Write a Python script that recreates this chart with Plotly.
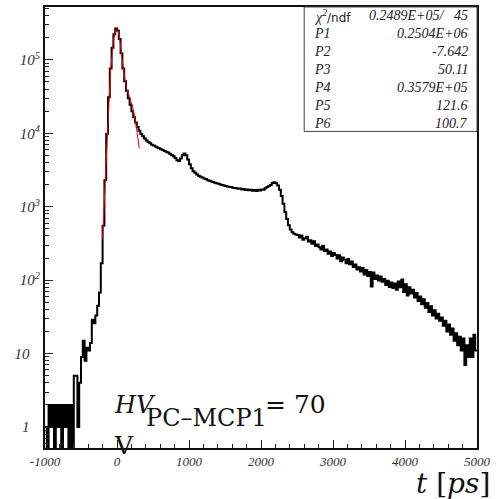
import numpy as np
import plotly.graph_objects as go

# ---- histogram: time spectrum, 25 ps bins from -1000 to 5000 ps ----
T_MIN, T_MAX, BIN_WIDTH = -1000, 5000, 25

counts = [
    # -1000 .. -625
    1, 0, 2, 1, 2, 0, 2, 1, 2, 0, 2, 1, 2, 0, 2, 0,
    # -600 .. -225
    5, 5, 1, 4, 9, 15, 8, 12, 11, 14, 29, 26, 33, 45, 68, 170,
    # -200 .. 175
    550, 2300, 9800, 31000, 76000, 146000, 222000, 266000,
    250000, 192000, 123000, 76000, 51000, 38000, 30000, 24500,
    # 200 .. 575
    20000, 16500, 14000, 12200, 10800, 9800, 9100, 8500,
    8000, 7600, 7300, 7000, 6800, 6600, 6400, 6250,
    # 600 .. 975
    6050, 5900, 5750, 5600, 5450, 5250, 5050, 4850,
    4600, 4300, 4200, 4550, 5000, 5300, 5000, 4400,
    # 1000 .. 1375
    3800, 3350, 3050, 2900, 2750, 2650, 2550, 2500,
    2420, 2380, 2300, 2260, 2200, 2170, 2120, 2080,
    # 1400 .. 1775
    2050, 2000, 1980, 1940, 1920, 1880, 1860, 1850,
    1810, 1800, 1790, 1760, 1770, 1720, 1740, 1690,
    # 1800 .. 2175
    1710, 1670, 1700, 1650, 1690, 1640, 1700, 1660,
    1720, 1700, 1780, 1850, 1920, 1980, 2100, 2150,
    # 2200 .. 2475
    2080, 1950, 1700, 1400, 1100, 850, 680, 560, 490, 450, 430, 420,
    # 2500 .. 2875
    412, 380, 405, 356, 372, 390, 335, 350, 312, 338, 291, 306, 280, 262, 293, 249,
    # 2900 .. 3275
    262, 229, 246, 213, 235, 220, 197, 218, 181, 204, 190, 170, 194, 165, 179, 151,
    # 3300 .. 3675
    163, 140, 150, 131, 146, 119, 137, 114, 129, 82, 127, 104, 116, 99, 112, 95,
    # 3700 .. 4075
    104, 86, 98, 81, 93, 78, 90, 74, 96, 80, 102, 69, 88, 62, 80, 66,
    # 4100 .. 4475
    74, 58, 67, 52, 60, 47, 55, 42, 49, 37, 44, 33, 39, 30, 35, 28,
    # 4500 .. 4875
    31, 24, 28, 20, 25, 18, 22, 15, 19, 13, 17, 11, 16, 7, 13, 9,
    # 4900 .. 4975
    16, 9, 18, 11,
]

# ---- fit result (two Gaussians) ----
fit_params = [0.2504e6, -7.642, 50.11, 0.3579e5, 121.6, 100.7]
fit_range = (-200.0, 310.0)
chi2, ndf = 0.2489e5, 45
stat_labels = ["P1", "P2", "P3", "P4", "P5", "P6"]

x_ticks = [-1000, 0, 1000, 2000, 3000, 4000, 5000]
y_ticks = [1, 10, 100, 1000, 10000, 100000]
y_ticktext = ["1\u2002\u2009", "10\u2002\u2009", "10<sup>2</sup>", "10<sup>3</sup>",
              "10<sup>4</sup>", "10<sup>5</sup>"]


def root_fmt(v):
    """ROOT-style stat number: 4 significant digits, 0.xxxxE+yy when large."""
    if abs(v) >= 1e4:
        e = int(np.floor(np.log10(abs(v)))) + 1
        return f"{v / 10 ** e:.4f}E+{e:02d}"
    return f"{v:.4g}"


# ---- derived arrays ----
edges = np.arange(T_MIN, T_MAX + BIN_WIDTH, BIN_WIDTH)
c = np.asarray(counts, dtype=float)
# empty bins are pushed below the axis so the step drops to the frame
c_plot = np.where(c > 0, c, 1e-3)
y_step = np.append(c_plot, c_plot[-1])


def double_gauss(t, p):
    return (p[0] * np.exp(-0.5 * ((t - p[1]) / p[2]) ** 2)
            + p[3] * np.exp(-0.5 * ((t - p[4]) / p[5]) ** 2))


t_fit = np.linspace(fit_range[0], fit_range[1], 300)
y_fit = double_gauss(t_fit, fit_params)

# ---- frame geometry in pixels ----
W, H = 496, 499
L, R, T, B = 45, 480, 5, 448


def px(x):
    return (x - L) / (R - L)


def py(y):
    return (B - y) / (B - T)


fig = go.Figure()
fig.add_trace(go.Scatter(
    x=edges, y=y_step, mode="lines", line_shape="hv",
    line=dict(color="black", width=2), hoverinfo="skip", showlegend=False))
fig.add_trace(go.Scatter(
    x=t_fit, y=y_fit, mode="lines",
    line=dict(color="#ff0000", width=1), hoverinfo="skip", showlegend=False))

minor_y = [m * 10 ** k for k in range(-1, 6) for m in range(2, 10)
           if -0.285 < np.log10(m * 10 ** k) < 5.719]

fig.update_layout(
    width=W, height=H,
    margin=dict(l=L, r=W - R, t=T, b=H - B),
    paper_bgcolor="white", plot_bgcolor="white",
    xaxis=dict(
        range=[T_MIN, T_MAX], tickvals=x_ticks,
        ticktext=[str(v) for v in x_ticks],
        ticks="inside", ticklen=8, tickwidth=1, tickcolor="#222",
        minor=dict(ticks="inside", ticklen=4, tickwidth=1, tickcolor="#222",
                   dtick=200, tick0=-1000),
        showline=True, linewidth=2, linecolor="#111", mirror=True,
        showgrid=False, zeroline=False,
        tickfont=dict(family="Liberation Serif", size=13, color="#333",
                      style="italic"),
    ),
    yaxis=dict(
        type="log", range=[-0.285, 5.719],
        tickvals=y_ticks, ticktext=y_ticktext,
        ticks="inside", ticklen=8, tickwidth=1, tickcolor="#222",
        minor=dict(ticks="inside", ticklen=4, tickwidth=1, tickcolor="#222",
                   tickvals=minor_y),
        showline=True, linewidth=2, linecolor="#111", mirror=True,
        showgrid=False, zeroline=False,
        tickfont=dict(family="Liberation Serif", size=15, color="#333",
                      style="italic"),
    ),
)

# ---- statistics box ----
fig.add_shape(type="rect", xref="paper", yref="paper",
              x0=px(306), x1=px(480), y0=py(130), y1=py(5),
              line=dict(color="#444", width=1), fillcolor="white",
              layer="above")

row_y = [14, 32, 50, 68, 86, 104, 122]
stat_font = dict(family="Liberation Serif", size=14, color="#222",
                 style="italic")
fig.add_annotation(
    xref="paper", yref="paper", x=px(314), y=py(row_y[0]),
    xanchor="left", yanchor="middle", showarrow=False,
    text="χ<sup>2</sup><span style='font-family:DejaVu Sans;font-style:normal;"
         "font-size:12px'>/ndf</span>",
    font=stat_font)
fig.add_annotation(
    xref="paper", yref="paper", x=px(473), y=py(row_y[0]),
    xanchor="right", yanchor="middle", showarrow=False,
    text=root_fmt(chi2) + "/\u00a0\u00a0\u00a0" + str(ndf),
    font=stat_font)
for lab, val, yy in zip(stat_labels, fit_params, row_y[1:]):
    fig.add_annotation(xref="paper", yref="paper", x=px(314), y=py(yy),
                       xanchor="left", yanchor="middle", showarrow=False,
                       text=lab, font=stat_font)
    fig.add_annotation(xref="paper", yref="paper", x=px(473), y=py(yy),
                       xanchor="right", yanchor="middle", showarrow=False,
                       text=root_fmt(val), font=stat_font)

# ---- voltage label and axis title ----
math_font = dict(family="DejaVu Serif", size=24, color="#111")
label_parts = [
    # text, left x, centre y, size
    ("<i>HV</i>", 113, 405, 24),
    ("PC–MCP1", 146, 418, 24),
    ("= 70", 266, 404, 25),
    ("V", 113, 445, 25),
]
for txt, lx, cy, size in label_parts:
    fig.add_annotation(xref="paper", yref="paper", x=px(lx), y=py(cy),
                       xanchor="left", yanchor="middle", showarrow=False,
                       borderpad=0, text=txt, font=dict(math_font, size=size))
fig.add_annotation(xref="paper", yref="paper", x=px(494), y=py(484),
                   xanchor="right", yanchor="middle", showarrow=False,
                   borderpad=0,
                   text="<i>t</i> [<i>ps</i>]", font=dict(math_font, size=28))

fig.write_html("out.html")
